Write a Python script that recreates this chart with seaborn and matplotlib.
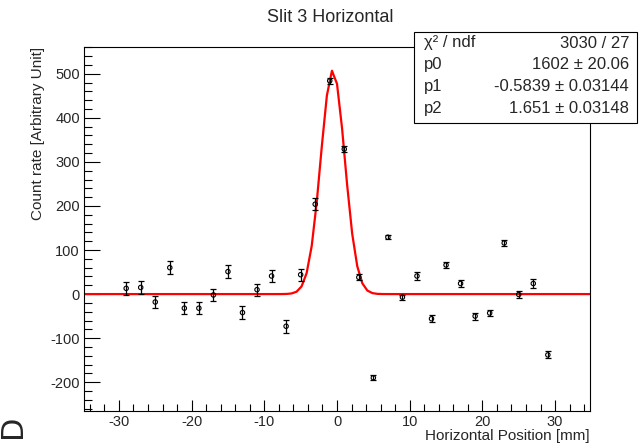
import matplotlib.pyplot as plt
import matplotlib.patches as patches
import numpy as np
import pandas as pd
import seaborn as sns
from matplotlib.ticker import MultipleLocator

# measured points
positions = [-29, -27, -25, -23, -21, -19, -17, -15, -13, -11, -9, -7, -5, -3, -1,
             1, 3, 5, 7, 9, 11, 13, 15, 17, 19, 21, 23, 25, 27, 29]
rates = [13, 15, -18, 60, -32, -32, -2, 51, -42, 10, 41, -73, 44, 204, 484,
         329, 38, -190, 129, -7, 41, -56, 66, 24, -50, -43, 116, -1, 24, -138]
rate_errors = [14, 14, 13, 14, 13, 14, 14, 14, 14, 14, 14, 15, 14, 13, 7,
               7, 7, 6, 5, 6, 8, 8, 7.5, 8, 8, 7, 6, 9, 10, 8]

# fit result (stat box)
fit_rows = [("χ² / ndf", "3030 / 27"),
            ("p0", "1602 ± 20.06"),
            ("p1", "-0.5839 ± 0.03144"),
            ("p2", "1.651 ± 0.03148")]
fit_peak = 508
fit_mean = -0.5839
fit_sigma = 1.651


def plot():
    sns.set_theme(style="white")
    plt.rcParams['font.family'] = ['Liberation Sans', 'DejaVu Sans']
    plt.rcParams['axes.unicode_minus'] = False

    df = pd.DataFrame({'x': positions, 'y': rates, 'err': rate_errors})

    xfit = np.linspace(-34.8, 34.8, 101)
    fit = pd.DataFrame({'x': xfit,
                        'y': fit_peak * np.exp(-0.5 * ((xfit - fit_mean) / fit_sigma) ** 2)})

    fig = plt.figure(figsize=(6.4, 4.44), dpi=100)
    ax = fig.add_axes([84 / 640, 1 - 411.3 / 444, 506 / 640, 364 / 444])

    ax.errorbar(df['x'], df['y'], yerr=df['err'], fmt='none', ecolor='black',
                elinewidth=0.9, capsize=2.2, capthick=0.9, zorder=3)
    sns.scatterplot(data=df, x='x', y='y', ax=ax, marker='o', s=10,
                    facecolor='none', edgecolor='black', linewidth=0.8, zorder=4)
    sns.lineplot(data=fit, x='x', y='y', ax=ax, color='red', linewidth=1.6,
                 sort=False, zorder=2)

    ax.set_xlim(-34.8, 34.8)
    ax.set_ylim(-266, 560)
    ax.xaxis.set_major_locator(MultipleLocator(10))
    ax.xaxis.set_minor_locator(MultipleLocator(2))
    ax.yaxis.set_major_locator(MultipleLocator(100))
    ax.yaxis.set_minor_locator(MultipleLocator(20))
    ax.tick_params(axis='x', which='major', direction='in', length=7.7, width=0.8,
                   labelsize=10.5, pad=3, bottom=True, top=False, color='black')
    ax.tick_params(axis='x', which='minor', direction='in', length=5, width=0.8,
                   bottom=True, top=False, color='black')
    ax.tick_params(axis='y', which='major', direction='in', length=11.5, width=0.8,
                   labelsize=10.5, pad=3, left=True, right=False, color='black')
    ax.tick_params(axis='y', which='minor', direction='in', length=6, width=0.8,
                   left=True, right=False, color='black')
    for s in ax.spines.values():
        s.set_color('black')
        s.set_linewidth(0.8)

    ax.set_xlabel("Horizontal Position [mm]", fontsize=11, loc='right', labelpad=0)
    ax.set_ylabel("Count rate [Arbitrary Unit]", fontsize=11, loc='top', labelpad=4)

    fig.text(0.516, 1 - 17 / 444, "Slit 3 Horizontal", fontsize=13, ha='center', va='center')

    # stat box
    box = patches.Rectangle((414 / 640, 1 - 123.3 / 444), 223 / 640, 91 / 444,
                            transform=fig.transFigure, facecolor='white',
                            edgecolor='black', linewidth=0.8, zorder=10)
    fig.add_artist(box)
    for i, (name, val) in enumerate(fit_rows):
        yy = 1 - (43 + 21.8 * i) / 444
        fig.text(424 / 640, yy, name, fontsize=12, ha='left', va='center', zorder=11)
        fig.text(629 / 640, yy, val, fontsize=12, ha='right', va='center', zorder=11)

    fig.text(-0.003, 0.014, "D", rotation=90, fontsize=22, ha='left', va='bottom',
             family='DejaVu Sans')

    plt.savefig("out.png", dpi=100)


if __name__ == '__main__':
    plot()
